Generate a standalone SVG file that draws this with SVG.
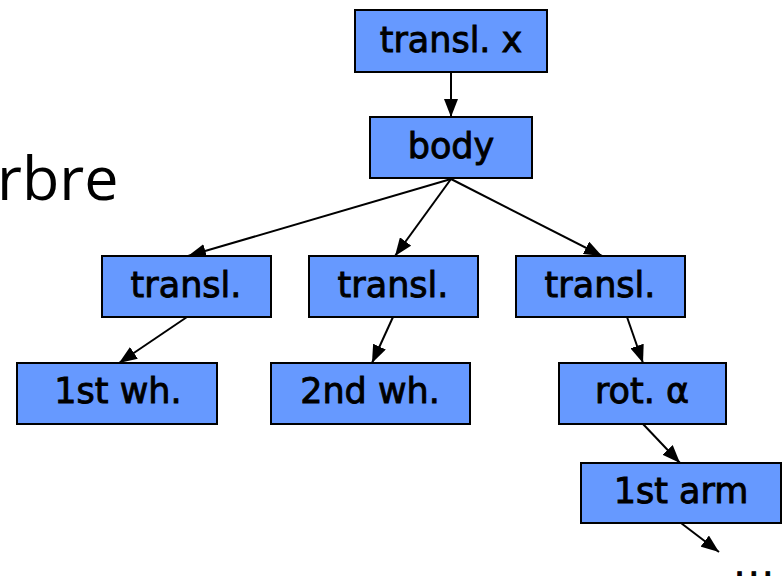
<svg xmlns="http://www.w3.org/2000/svg" width="782" height="576" viewBox="0 0 782 576">
<defs>
<marker id="ah" markerWidth="18" markerHeight="14" refX="18" refY="7" orient="auto" markerUnits="userSpaceOnUse" viewBox="0 0 18 14">
<path d="M0,0 L18,7 L0,14 z" fill="#000"/>
</marker>
<style>
.box{fill:#6699ff;stroke:#000;stroke-width:2}
.lbl{font-family:"DejaVu Sans","Liberation Sans",sans-serif;font-size:35px;fill:#000;stroke:#000;stroke-width:0.9;text-anchor:middle}
.edge{stroke:#000;stroke-width:2;fill:none;marker-end:url(#ah)}
</style>
</defs>
<rect width="782" height="576" fill="#fff"/>
<text x="-3" y="200" font-family="'Open Sans','DejaVu Sans',sans-serif" font-size="61" fill="#000">rbre</text>
<g id="connectors">
<line class="edge" x1="451" y1="72" x2="451" y2="117"/>
<line class="edge" x1="451" y1="179" x2="188" y2="256"/>
<line class="edge" x1="451" y1="179" x2="395" y2="256"/>
<line class="edge" x1="451" y1="179" x2="602" y2="256"/>
<line class="edge" x1="187" y1="317" x2="119" y2="363"/>
<line class="edge" x1="393" y1="317" x2="372" y2="363"/>
<line class="edge" x1="627" y1="317" x2="643" y2="363"/>
<line class="edge" x1="643" y1="424" x2="680" y2="463"/>
<line class="edge" x1="681" y1="523" x2="719" y2="552"/>
</g>
<g id="translx"><rect class="box" x="355" y="10" width="192" height="62"/><text class="lbl" x="451" y="52">transl. x</text></g>
<g id="body"><rect class="box" x="370" y="117" width="162" height="61"/><text class="lbl" x="451" y="158">body</text></g>
<g id="transl1"><rect class="box" x="102" y="256" width="169" height="61"/><text class="lbl" x="186" y="297">transl.</text></g>
<g id="transl2"><rect class="box" x="309" y="256" width="169" height="61"/><text class="lbl" x="393" y="297">transl.</text></g>
<g id="transl3"><rect class="box" x="516" y="256" width="169" height="61"/><text class="lbl" x="600" y="297">transl.</text></g>
<g id="wheel1"><rect class="box" x="17" y="363" width="200" height="61"/><text class="lbl" x="118" y="403">1st wh.</text></g>
<g id="wheel2"><rect class="box" x="271" y="363" width="199" height="61"/><text class="lbl" x="370" y="403">2nd wh.</text></g>
<g id="rot"><rect class="box" x="559" y="363" width="167" height="61"/><text class="lbl" x="642" y="403">rot. α</text></g>
<g id="arm1"><rect class="box" x="581" y="463" width="200" height="60"/><text class="lbl" x="681" y="503">1st arm</text></g>
<text class="lbl" x="734" y="576" style="text-anchor:start;letter-spacing:3px">...</text>
</svg>
